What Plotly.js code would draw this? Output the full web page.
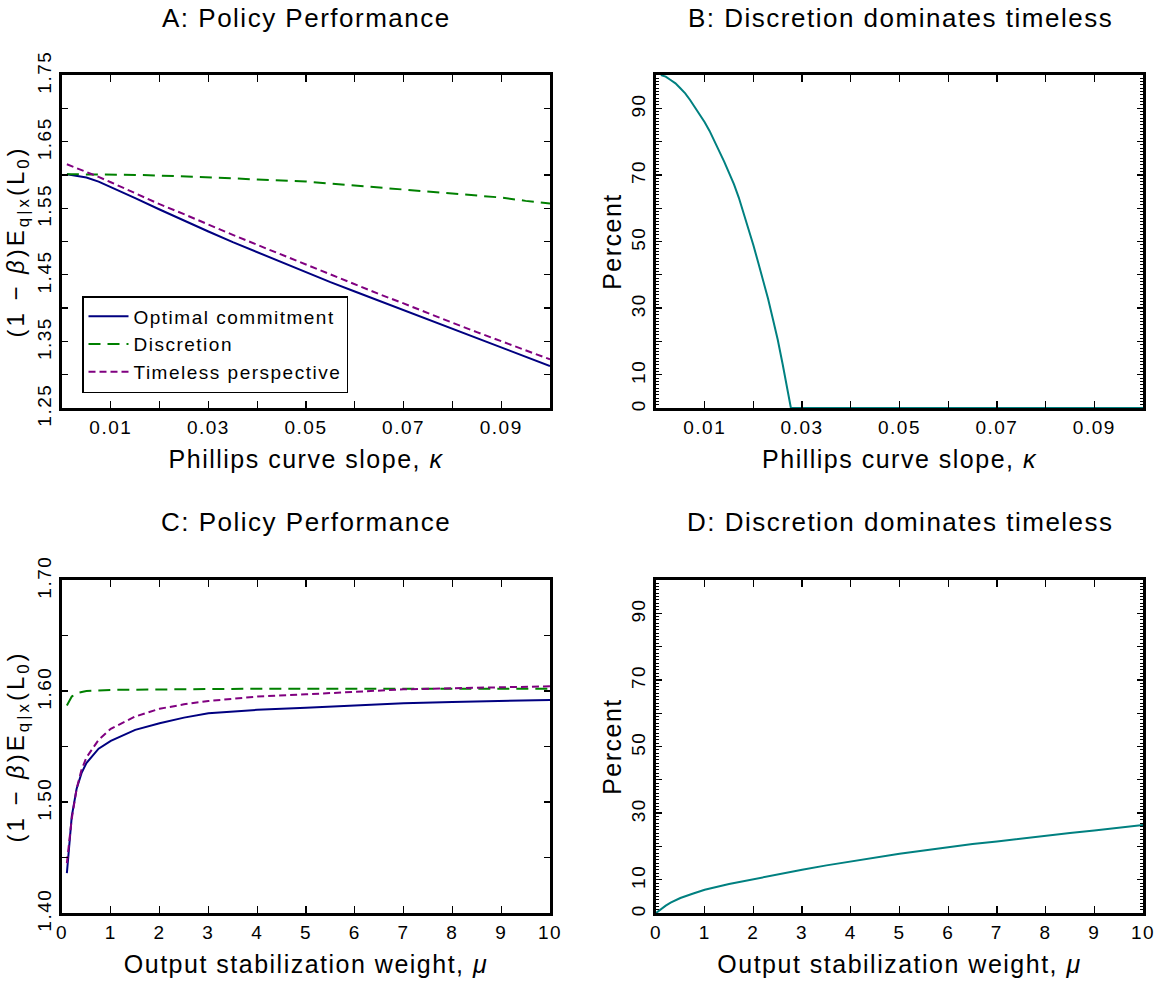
<!DOCTYPE html>
<html>
<head>
<meta charset="utf-8">
<script src="https://cdn.plot.ly/plotly-3.0.1.min.js"></script>
<style>
  html, body { margin: 0; padding: 0; background: #fff; }
  #chart { width: 1168px; height: 987px; }
  svg text { letter-spacing: 1.5px; }
  .g-ytitle text, .g-y3title text { letter-spacing: 3px; }
</style>
</head>
<body>
<div id="chart"></div>
<script>
// ---------- Panel A: policy performance vs Phillips curve slope ----------
const kappa = [0.001, 0.005, 0.0075, 0.01, 0.015, 0.02, 0.025, 0.03, 0.035, 0.04, 0.045,
               0.05, 0.055, 0.06, 0.065, 0.07, 0.075, 0.08, 0.085, 0.09, 0.095, 0.1];
const commitA = [1.601, 1.596, 1.590, 1.582, 1.565, 1.548, 1.531, 1.515, 1.499, 1.484, 1.469,
                 1.453, 1.439, 1.425, 1.411, 1.397, 1.383, 1.370, 1.356, 1.342, 1.328, 1.313];
const discretionA = [1.601, 1.601, 1.601, 1.601, 1.600, 1.599, 1.598, 1.597, 1.595, 1.593, 1.592,
                     1.590, 1.587, 1.584, 1.581, 1.578, 1.575, 1.572, 1.569, 1.566, 1.561, 1.557];
const timelessA = [1.616, 1.605, 1.597, 1.589, 1.572, 1.556, 1.541, 1.525, 1.510, 1.495, 1.480,
                   1.465, 1.450, 1.436, 1.421, 1.407, 1.392, 1.378, 1.364, 1.350, 1.336, 1.323];

// ---------- Panel B: share where discretion dominates timeless ----------
const kappaB = [0.001, 0.002, 0.003, 0.004, 0.005, 0.006, 0.007, 0.008, 0.009, 0.010, 0.011,
                0.012, 0.013, 0.014, 0.015, 0.016, 0.017, 0.018, 0.019, 0.020, 0.021, 0.022,
                0.023, 0.024, 0.025, 0.026, 0.027, 0.0277, 0.03, 0.05, 0.07, 0.1];
const pctB = [100, 99.5, 98.5, 97.5, 96.0, 94.5, 92.5, 90.3, 88.2, 85.8, 83.2,
              80.3, 77.2, 74.0, 70.6, 67.2, 63.2, 58.6, 53.8, 48.9, 43.6, 38.3,
              32.9, 26.7, 20.5, 13.2, 5.8, 0, 0, 0, 0, 0];

// ---------- Panel C: policy performance vs output stabilization weight ----------
const mu = [0.1, 0.2, 0.3, 0.4, 0.5, 0.75, 1, 1.5, 2, 2.5, 3, 4, 5, 6, 7, 8, 9, 10];
const commitC = [1.436, 1.487, 1.512, 1.526, 1.535, 1.548, 1.555, 1.565, 1.571, 1.576, 1.580,
                 1.583, 1.585, 1.587, 1.589, 1.590, 1.591, 1.592];
const discretionC = [1.587, 1.595, 1.598, 1.599, 1.600, 1.6005, 1.601, 1.6012, 1.6015, 1.6017, 1.6018,
                     1.602, 1.602, 1.602, 1.602, 1.602, 1.602, 1.602];
const timelessC = [1.445, 1.485, 1.512, 1.529, 1.540, 1.556, 1.566, 1.577, 1.584, 1.588, 1.591,
                   1.595, 1.597, 1.599, 1.6015, 1.6025, 1.6035, 1.6042];

// ---------- Panel D: share where discretion dominates timeless ----------
const muD = [0, 0.1, 0.2, 0.3, 0.5, 0.75, 1, 1.5, 2, 2.5, 3, 3.5, 4, 4.5, 5, 5.5, 6, 6.5, 7,
             7.5, 8, 8.5, 9, 9.5, 10];
const pctD = [0, 1.2, 2.2, 3.1, 4.5, 5.8, 7.0, 8.7, 10.2, 11.7, 13.0, 14.3, 15.5, 16.7, 17.8,
              18.8, 19.8, 20.7, 21.5, 22.4, 23.2, 24.0, 24.8, 25.6, 26.4];

// ---------- Tick labels ----------
const kappaTickVals = [0.01, 0.03, 0.05, 0.07, 0.09];
const kappaTickText = ["0.01", "0.03", "0.05", "0.07", "0.09"];
const kappaMinorVals = [0.02, 0.04, 0.06, 0.08];
const lossATickVals = [1.25, 1.35, 1.45, 1.55, 1.65, 1.75];
const lossATickText = ["1.25", "1.35", "1.45", "1.55", "1.65", "1.75"];
const lossAMinorVals = [1.30, 1.40, 1.50, 1.60, 1.70];
const lossCTickVals = [1.40, 1.50, 1.60, 1.70];
const lossCTickText = ["1.40", "1.50", "1.60", "1.70"];
const lossCMinorVals = [1.45, 1.55, 1.65];
const pctTickVals = [0, 10, 30, 50, 70, 90];
const pctTickText = ["0", "10", "30", "50", "70", "90"];
const pctUnlabeledVals = [20, 40, 60, 80, 100];
const muTickVals = [0, 1, 2, 3, 4, 5, 6, 7, 8, 9, 10];
const muTickText = ["0", "1", "2", "3", "4", "5", "6", "7", "8", "9", "10"];

const seriesNames = ["Optimal commitment", "Discretion", "Timeless perspective"];
const panelTitles = ["A: Policy Performance", "B: Discretion dominates timeless",
                     "C: Policy Performance", "D: Discretion dominates timeless"];
const xTitles = ["Phillips curve slope, <i>κ</i>", "Output stabilization weight, <i>μ</i>"];
const yTitles = ["(1 − <i>β</i>)E<sub>q|x</sub>(L<sub>0</sub>)", "Percent"];

// ---------- Styling ----------
const W = 1168, H = 987;
const FONT = "Liberation Sans";
const cNavy = "#000080", cGreen = "#008000", cPurple = "#800080", cTeal = "#008080";

const traces = [
  {x: kappa, y: commitA, name: seriesNames[0], xaxis: "x", yaxis: "y", mode: "lines",
   line: {color: cNavy, width: 2}},
  {x: kappa, y: discretionA, name: seriesNames[1], xaxis: "x", yaxis: "y", mode: "lines",
   line: {color: cGreen, width: 2, dash: "12px,7px"}},
  {x: kappa, y: timelessA, name: seriesNames[2], xaxis: "x", yaxis: "y", mode: "lines",
   line: {color: cPurple, width: 2, dash: "7px,4px"}},
  {x: kappaB, y: pctB, xaxis: "x2", yaxis: "y2", mode: "lines", showlegend: false,
   line: {color: cTeal, width: 2}},
  {x: mu, y: commitC, xaxis: "x3", yaxis: "y3", mode: "lines", showlegend: false,
   line: {color: cNavy, width: 2}},
  {x: mu, y: discretionC, xaxis: "x3", yaxis: "y3", mode: "lines", showlegend: false,
   line: {color: cGreen, width: 2, dash: "12px,7px"}},
  {x: mu, y: timelessC, xaxis: "x3", yaxis: "y3", mode: "lines", showlegend: false,
   line: {color: cPurple, width: 2, dash: "7px,4px"}},
  {x: muD, y: pctD, xaxis: "x4", yaxis: "y4", mode: "lines", showlegend: false,
   line: {color: cTeal, width: 2}},
  // empty traces that only attach the extra (unlabelled) tick axes
  {x: [], y: [], xaxis: "x2", yaxis: "y5", mode: "lines", showlegend: false, hoverinfo: "skip"},
  {x: [], y: [], xaxis: "x4", yaxis: "y6", mode: "lines", showlegend: false, hoverinfo: "skip"}
];

const px = v => v / W;
const py = v => 1 - v / H;

function baseAxis(extra) {
  return Object.assign({
    showline: true, linewidth: 3, linecolor: "black", mirror: "ticks",
    ticks: "inside", ticklen: 7, tickwidth: 1.3, tickcolor: "black",
    showgrid: false, zeroline: false, fixedrange: true,
    tickfont: {family: FONT, size: 19, color: "black"}
  }, extra);
}
function sameMinor(vals, len) {
  return {tickmode: "array", tickvals: vals, ticklen: len, tickwidth: 1.3,
          tickcolor: "black", ticks: "inside"};
}
function axTitle(text, size, standoff) {
  return {text: text, standoff: standoff, font: {family: FONT, size: size, color: "black"}};
}
const pctMinor = {dtick: 1, ticklen: 3, tickwidth: 1, tickcolor: "black", ticks: "inside"};

const colA = [px(62), px(550)], colB = [px(656), px(1143)];
const rowTop = [py(408), py(75)], rowBot = [py(913), py(580)];

const layout = {
  width: W, height: H,
  margin: {l: 0, r: 0, t: 0, b: 0},
  paper_bgcolor: "white", plot_bgcolor: "white",
  font: {family: FONT, color: "black"},
  showlegend: true,
  legend: {
    x: px(82), y: py(296), xanchor: "left", yanchor: "top",
    bordercolor: "black", borderwidth: 1.5, bgcolor: "white",
    font: {family: FONT, size: 19, color: "black"},
    itemwidth: 40, tracegroupgap: 0
  },
  xaxis: baseAxis({domain: colA, anchor: "y", range: [0, 0.1],
    tickmode: "array", tickvals: kappaTickVals, ticktext: kappaTickText,
    minor: sameMinor(kappaMinorVals, 7), title: axTitle(xTitles[0], 25, 14)}),
  yaxis: baseAxis({domain: rowTop, anchor: "x", range: [1.25, 1.75], ticklen: 6,
    tickmode: "array", tickvals: lossATickVals, ticktext: lossATickText, tickangle: -90,
    minor: sameMinor(lossAMinorVals, 6), title: axTitle(yTitles[0], 24, 4)}),
  xaxis2: baseAxis({domain: colB, anchor: "y2", range: [0, 0.1],
    tickmode: "array", tickvals: kappaTickVals, ticktext: kappaTickText,
    minor: sameMinor(kappaMinorVals, 7), title: axTitle(xTitles[0], 25, 14)}),
  yaxis2: baseAxis({domain: rowTop, anchor: "x2", range: [0, 100], ticklen: 6,
    tickmode: "array", tickvals: pctTickVals, ticktext: pctTickText, tickangle: -90,
    minor: pctMinor, title: axTitle(yTitles[1], 25, 0)}),
  yaxis5: baseAxis({overlaying: "y2", anchor: "x2", range: [0, 100], ticklen: 6,
    tickmode: "array", tickvals: pctUnlabeledVals, showticklabels: false}),
  xaxis3: baseAxis({domain: colA, anchor: "y3", range: [0, 10],
    tickmode: "array", tickvals: muTickVals, ticktext: muTickText,
    title: axTitle(xTitles[1], 25, 14)}),
  yaxis3: baseAxis({domain: rowBot, anchor: "x3", range: [1.40, 1.70], ticklen: 6,
    tickmode: "array", tickvals: lossCTickVals, ticktext: lossCTickText, tickangle: -90,
    minor: sameMinor(lossCMinorVals, 6), title: axTitle(yTitles[0], 24, 4)}),
  xaxis4: baseAxis({domain: colB, anchor: "y4", range: [0, 10],
    tickmode: "array", tickvals: muTickVals, ticktext: muTickText,
    title: axTitle(xTitles[1], 25, 14)}),
  yaxis4: baseAxis({domain: rowBot, anchor: "x4", range: [0, 100], ticklen: 6,
    tickmode: "array", tickvals: pctTickVals, ticktext: pctTickText, tickangle: -90,
    minor: pctMinor, title: axTitle(yTitles[1], 25, 0)}),
  yaxis6: baseAxis({overlaying: "y4", anchor: "x4", range: [0, 100], ticklen: 6,
    tickmode: "array", tickvals: pctUnlabeledVals, showticklabels: false}),
  annotations: []
};

function ann(text, x, y, size) {
  return {text: text, xref: "paper", yref: "paper", x: px(x), y: py(y),
          xanchor: "center", yanchor: "middle", showarrow: false,
          font: {family: FONT, size: size, color: "black"}};
}
layout.annotations.push(ann(panelTitles[0], 306, 18, 26));
layout.annotations.push(ann(panelTitles[1], 900, 18, 26));
layout.annotations.push(ann(panelTitles[2], 306, 522, 26));
layout.annotations.push(ann(panelTitles[3], 900, 522, 26));

Plotly.newPlot("chart", traces, layout, {staticPlot: true, displayModeBar: false});
</script>
</body>
</html>
